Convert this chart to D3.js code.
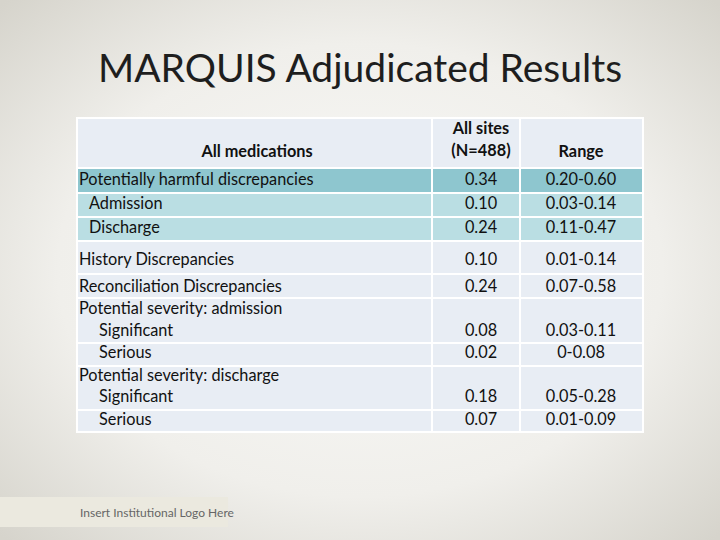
<!DOCTYPE html>
<html><head><meta charset="utf-8">
<script src="https://cdn.jsdelivr.net/npm/d3@7"></script>
<style>body{margin:0;overflow:hidden}</style>
</head><body>
<svg id="c" width="720" height="540"></svg>
<script>
// Table data
const labels = ["Potentially harmful discrepancies", "Admission", "Discharge", "History Discrepancies",
  "Reconciliation Discrepancies", "Potential severity: admission", "Significant", "Serious",
  "Potential severity: discharge", "Significant", "Serious"];
const indent = [0, 1, 1, 0, 0, 0, 2, 2, 0, 2, 2];
const allSites = ["0.34", "0.10", "0.24", "0.10", "0.24", "", "0.08", "0.02", "", "0.18", "0.07"];
const ranges = ["0.20-0.60", "0.03-0.14", "0.11-0.47", "0.01-0.14", "0.07-0.58", "", "0.03-0.11", "0-0.08", "", "0.05-0.28", "0.01-0.09"];
// visual rows (each block groups text lines into one cell)
const blocks = [[0], [1], [2], [3], [4], [5, 6], [7], [8, 9], [10]];
const blockBounds = [168, 193, 217, 241, 274, 298, 343, 366, 410, 432];
const lineY = [181, 205, 229, 261, 288, 310, 332, 354, 377, 398, 421];

const svg = d3.select("#c");
const font = "Lato, 'Open Sans', sans-serif";
const defs = svg.append("defs");
const rg = defs.append("radialGradient").attr("id", "bg").attr("cx", "50%").attr("cy", "50%").attr("r", "70%");
rg.append("stop").attr("offset", "0%").attr("stop-color", "#fafaf8");
rg.append("stop").attr("offset", "60%").attr("stop-color", "#f0efeb");
rg.append("stop").attr("offset", "100%").attr("stop-color", "#d6d4cc");
svg.append("rect").attr("width", 720).attr("height", 540).attr("fill", "url(#bg)");

svg.append("text").attr("x", 360).attr("y", 82).attr("text-anchor", "middle")
  .attr("font-family", font).attr("font-size", 39).attr("fill", "#1e1e1e")
  .text("MARQUIS Adjudicated Results");

const cols = [77, 432, 520, 643];
const colFill = b => b === 0 ? "#8ec6cf" : (b <= 2 ? "#badee3" : "#e8edf4");

const g = svg.append("g");
[0, 1, 2].forEach(c => g.append("rect").attr("x", cols[c]).attr("y", 118)
  .attr("width", cols[c + 1] - cols[c]).attr("height", 50).attr("fill", "#e8edf4")
  .attr("stroke", "#fff").attr("stroke-width", 2));
blocks.forEach((b, i) => {
  [0, 1, 2].forEach(c => g.append("rect").attr("x", cols[c]).attr("y", blockBounds[i])
    .attr("width", cols[c + 1] - cols[c]).attr("height", blockBounds[i + 1] - blockBounds[i])
    .attr("fill", colFill(i)).attr("stroke", "#fff").attr("stroke-width", 2));
});

const t = (xx, y, s, anchor, bold) => g.append("text").attr("x", xx).attr("y", y)
  .attr("text-anchor", anchor).attr("font-family", font).attr("font-size", 16.3)
  .attr("font-weight", bold ? 700 : 400).attr("fill", "#111").attr("dominant-baseline", "middle").text(s);
t(257, 153, "All medications", "middle", true);
t(481, 130, "All sites", "middle", true);
t(481, 152, "(N=488)", "middle", true);
t(581, 153, "Range", "middle", true);
labels.forEach((l, i) => {
  t(79 + indent[i] * 10, lineY[i], l, "start", false);
  t(481, lineY[i], allSites[i], "middle", false);
  t(581, lineY[i], ranges[i], "middle", false);
});

svg.append("rect").attr("x", 0).attr("y", 497).attr("width", 228).attr("height", 30).attr("fill", "#ebe9df");
svg.append("text").attr("x", 80).attr("y", 514).attr("dominant-baseline", "middle")
  .attr("font-family", font).attr("font-size", 12).attr("fill", "#666").text("Insert Institutional Logo Here");
</script>
</body></html>
